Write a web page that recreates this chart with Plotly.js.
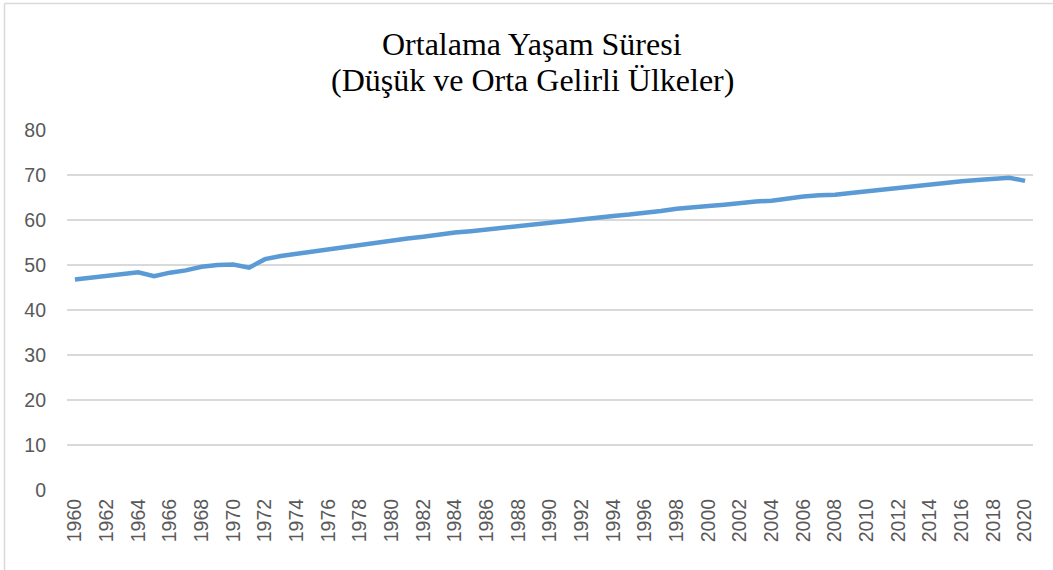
<!DOCTYPE html>
<html>
<head>
<meta charset="utf-8">
<script src="https://cdn.plot.ly/plotly-3.0.1.min.js"></script>
<style>
html,body{margin:0;padding:0;background:#fff;}
#chart{width:1053px;height:570px;}
</style>
</head>
<body>
<div id="chart"></div>
<script>
const years = [];
for (let y = 1960; y <= 2020; y++) years.push(String(y));

const lifeExpectancy = [
  46.8, 47.2, 47.6, 48.0, 48.4, 47.5, 48.3, 48.8, 49.6, 50.0,
  50.1, 49.4, 51.3, 52.0, 52.5, 53.0, 53.6, 54.1, 54.6, 55.1,
  55.5, 55.9, 56.3, 56.8, 57.2, 57.5, 57.9, 58.3, 58.7, 59.1,
  59.5, 59.9, 60.3, 60.6, 60.9, 61.2, 61.5, 62.0, 62.5, 62.9,
  63.1, 63.4, 63.8, 64.1, 64.3, 64.8, 65.2, 65.5, 65.6, 66.0,
  66.4, 66.8, 67.1, 67.5, 67.9, 68.2, 68.6, 68.9, 69.2, 69.4,
  68.7
];

const xTickLabels = years.filter((y, i) => i % 2 === 0);
const yTickValues = [0, 10, 20, 30, 40, 50, 60, 70, 80];

const titleLines = ['Ortalama Yaşam Süresi', '(Düşük ve Orta Gelirli Ülkeler)'];

const W = 1053, H = 570;
const L = 67, R = 20, T = 130, B = 80;
const pw = W - L - R, ph = H - T - B;
const titleSize = 32;
const titleBaselines = [55, 91];

const trace = {
  x: years,
  y: lifeExpectancy,
  type: 'scatter',
  mode: 'lines',
  line: {color: '#5b9bd5', width: 4.5, shape: 'linear'},
  hoverinfo: 'x+y'
};

const layout = {
  width: W, height: H,
  margin: {l: L, r: R, t: T, b: B, pad: 0},
  paper_bgcolor: '#ffffff',
  plot_bgcolor: '#ffffff',
  showlegend: false,
  annotations: titleLines.map((txt, i) => ({
    text: txt,
    showarrow: false,
    xref: 'paper', yref: 'paper',
    x: (532 - L) / pw, xanchor: 'center',
    y: (H - B - (titleBaselines[i] - 0.35 * titleSize)) / ph, yanchor: 'middle',
    font: {family: 'Liberation Serif, Times New Roman, serif', size: titleSize, color: '#000000'}
  })),
  xaxis: {
    type: 'category',
    range: [-0.5, years.length - 0.5],
    tickmode: 'array',
    tickvals: xTickLabels,
    ticktext: xTickLabels,
    tickangle: -90,
    tickfont: {family: 'Liberation Sans, Arial, sans-serif', size: 19.5, color: '#595959'},
    showgrid: false,
    zeroline: false,
    showline: false,
    ticks: '',
    ticklabelstandoff: 4
  },
  yaxis: {
    range: [0, 80],
    tickmode: 'array',
    tickvals: yTickValues,
    ticktext: yTickValues.map(String),
    tickfont: {family: 'Liberation Sans, Arial, sans-serif', size: 19.5, color: '#595959'},
    showgrid: true,
    gridcolor: '#d9d9d9',
    gridwidth: 1.5,
    zeroline: false,
    showline: false,
    ticks: '',
    ticklabelstandoff: 20
  },
  shapes: [
    {type: 'line', xref: 'paper', yref: 'paper',
     x0: (4.5 - L) / pw, x1: (4.5 - L) / pw,
     y0: (H - B - H) / ph, y1: (H - B - 3.5) / ph,
     line: {color: '#d9d9d9', width: 1.5}},
    {type: 'line', xref: 'paper', yref: 'paper',
     x0: (4.5 - L) / pw, x1: (W - L) / pw,
     y0: (H - B - 3.5) / ph, y1: (H - B - 3.5) / ph,
     line: {color: '#d9d9d9', width: 1.5}}
  ]
};

Plotly.newPlot('chart', [trace], layout, {displayModeBar: false, staticPlot: true});
</script>
</body>
</html>
